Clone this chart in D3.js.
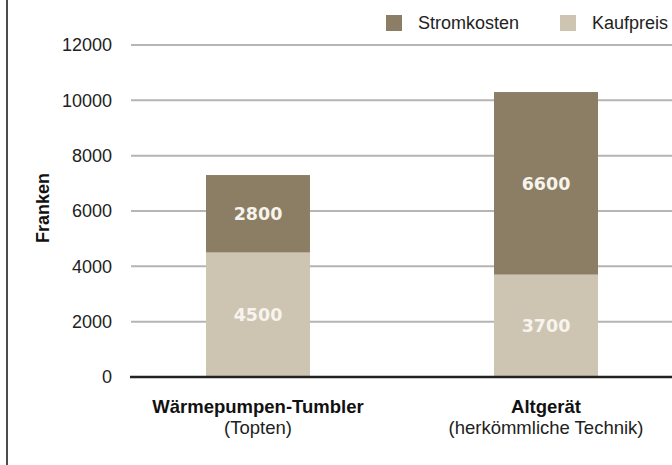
<!DOCTYPE html>
<html>
    <head>
        <meta charset="utf-8">
        <title>Franken - Tumbler</title>
        <style>
            body { margin: 0; background: #fff; }
            svg { display: block; font-family: "Liberation Sans", Arial, sans-serif; }
        </style>
    </head>
    <body>
        <svg id="chart" width="672" height="465"></svg>

        <script src="https://d3js.org/d3.v7.min.js"></script>
        <script>
            // Daten
            const categories = ["Wärmepumpen-Tumbler", "Altgerät"];
            const subLabels = ["(Topten)", "(herkömmliche Technik)"];
            const kaufpreis = [4500, 3700];
            const stromkosten = [2800, 6600];
            const seriesNames = ["Stromkosten", "Kaufpreis"];
            const yTicks = [0, 2000, 4000, 6000, 8000, 10000, 12000];

            const colors = { Stromkosten: "#8c7e64", Kaufpreis: "#cdc4b2" };

            const svg = d3.select("#chart");

            // linke Randlinie
            svg.append("line")
                .attr("x1", 7).attr("x2", 7)
                .attr("y1", 0).attr("y2", 465)
                .attr("stroke", "#111")
                .attr("stroke-width", 1.5);

            const y = d3.scaleLinear()
                .domain([0, 12000])
                .range([377, 45]);

            // Schritt 288, Balkenbreite ~104
            const x = d3.scaleBand()
                .domain(categories)
                .range([62, 742])
                .paddingInner(0.639)
                .paddingOuter(0.5);

            // Gitterlinien
            const grid = svg.append("g");
            grid.selectAll("line")
                .data(yTicks.filter(d => d > 0))
                .enter().append("line")
                  .attr("x1", 131).attr("x2", 672)
                  .attr("y1", d => y(d)).attr("y2", d => y(d))
                  .attr("stroke", "#b5b5b5")
                  .attr("stroke-width", 2);

            // y-Achse Beschriftung
            const yAxis = svg.append("g")
                .attr("transform", "translate(112,0)")
                .call(d3.axisLeft(y).tickValues(yTicks).tickSize(0).tickPadding(0).tickFormat(d3.format("d")));
            yAxis.select(".domain").remove();
            yAxis.selectAll("text")
                .attr("font-family", "'Liberation Sans', Arial, sans-serif")
                .attr("font-size", 18)
                .attr("fill", "#222");

            svg.append("text")
                .attr("transform", "translate(49,208) rotate(-90)")
                .attr("text-anchor", "middle")
                .attr("font-size", 18)
                .attr("font-weight", "bold")
                .attr("fill", "#111")
                .text("Franken");

            // gestapelte Balken
            const rows = categories.map((c, i) => ({ cat: c, Kaufpreis: kaufpreis[i], Stromkosten: stromkosten[i] }));
            const stack = d3.stack().keys(["Kaufpreis", "Stromkosten"])(rows);

            const layers = svg.append("g").selectAll("g")
                .data(stack)
                .enter().append("g")
                  .attr("fill", d => colors[d.key]);

            layers.selectAll("rect")
                .data(d => d)
                .enter().append("rect")
                  .attr("x", d => x(d.data.cat))
                  .attr("width", x.bandwidth())
                  .attr("y", d => y(d[1]))
                  .attr("height", d => y(d[0]) - y(d[1]));

            layers.selectAll("text")
                .data(d => d)
                .enter().append("text")
                  .attr("x", d => x(d.data.cat) + x.bandwidth() / 2)
                  .attr("y", d => (y(d[0]) + y(d[1])) / 2)
                  .attr("dy", "0.36em")
                  .attr("text-anchor", "middle")
                  .attr("font-family", "'DejaVu Sans', sans-serif")
                  .attr("font-weight", "bold")
                  .attr("font-size", 17.5)
                  .attr("fill", "#f7f4ee")
                  .text(d => d[1] - d[0]);

            // Nulllinie
            svg.append("line")
                .attr("x1", 130).attr("x2", 672)
                .attr("y1", y(0)).attr("y2", y(0))
                .attr("stroke", "#222")
                .attr("stroke-width", 2.5);

            // Kategorien
            const cats = svg.append("g").selectAll("g")
                .data(categories)
                .enter().append("g")
                  .attr("transform", d => `translate(${x(d) + x.bandwidth() / 2},0)`);
            cats.append("text")
                .attr("y", 413)
                .attr("text-anchor", "middle")
                .attr("font-size", 18.5)
                .attr("font-weight", "bold")
                .attr("fill", "#111")
                .text(d => d);
            cats.append("text")
                .attr("y", 434)
                .attr("text-anchor", "middle")
                .attr("font-size", 18.5)
                .attr("fill", "#222")
                .text((d, i) => subLabels[i]);

            // Legende
            const legendX = [386, 560];
            const legend = svg.append("g").selectAll("g")
                .data(seriesNames)
                .enter().append("g")
                  .attr("transform", (d, i) => `translate(${legendX[i]},15)`);
            legend.append("rect")
                .attr("width", 16).attr("height", 16)
                .attr("fill", d => colors[d]);
            legend.append("text")
                .attr("x", 32).attr("y", 14)
                .attr("font-size", 18)
                .attr("fill", "#222")
                .text(d => d);
        </script>
    </body>
</html>
